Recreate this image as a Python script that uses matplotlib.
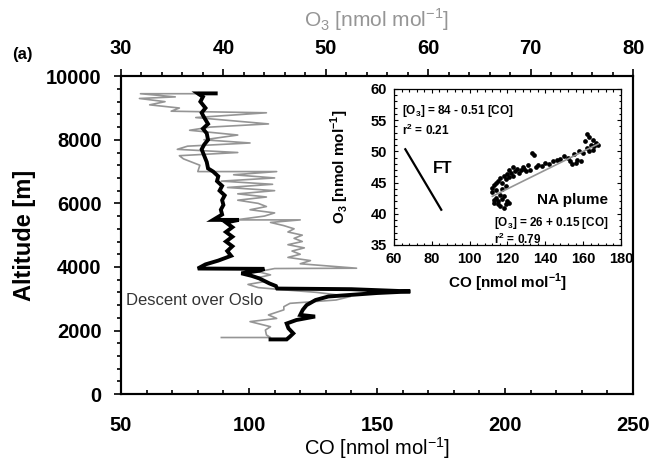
"""
CO and O3 profile, descent over Oslo
inset: O3 vs CO correlation (FT and NA plume)
"""
import matplotlib
matplotlib.use('Agg')
import matplotlib.pyplot as plt
from matplotlib.ticker import MultipleLocator

plt.rcParams['font.family'] = ['Liberation Sans', 'DejaVu Sans']
plt.rcParams['mathtext.fontset'] = 'custom'
plt.rcParams['mathtext.rm'] = 'Liberation Sans'
plt.rcParams['mathtext.bf'] = 'Liberation Sans:bold'

########## profile data ##########
co_alt = [9460, 9460, 9350, 9200, 9000, 8850, 8700, 8500, 8350, 8200,
          8000, 7850, 7700, 7500, 7300, 7100, 7000, 6850, 6700, 6550,
          6400, 6250, 6100, 5950, 5800, 5650, 5480, 5480, 5400, 5250,
          5100, 4950, 4800, 4650, 4500, 4350, 4200, 4080, 3950, 3940,
          3880, 3800, 3720, 3640, 3560, 3480, 3400, 3320, 3300, 3230,
          3180, 3070, 2960, 2800, 2650, 2490, 2440, 2330, 2220, 2070,
          1910, 1810, 1720, 1720]
co = [87, 80, 82, 81, 83, 81.5, 82.5, 84, 82, 83.5,
      84, 82.5, 81.5, 82.5, 83.5, 84, 86, 88, 87.5, 89.5,
      88.5, 90.5, 89.5, 90, 89, 89.5, 86, 96, 91, 93.5,
      91, 93.5, 91, 93.5, 91.5, 93, 88, 83, 80, 106,
      104, 97, 101, 104, 106, 108, 110.5, 111, 140, 163,
      150, 131, 126, 122.5, 121, 120, 125.8, 118.5, 114.7, 115.4,
      117.3, 116, 114.7, 108.4]

o3_alt = [9450, 9450, 9350, 9300, 9200, 9100, 9000, 8900, 8850, 8700,
          8500, 8400, 8300, 8150, 8000, 7900, 7800, 7700, 7600, 7500,
          7400, 7200, 7000, 7000, 6900, 6800, 6700, 6600, 6500, 6400,
          6300, 6200, 6100, 6000, 5900, 5800, 5700, 5600, 5480, 5480,
          5400, 5300, 5200, 5100, 5000, 4900, 4800, 4700, 4600, 4500,
          4400, 4300, 4200, 4100, 3960, 3950, 3850, 3750, 3650, 3550,
          3450, 3350, 3280, 3200, 3070, 2960, 2855, 2750, 2650, 2490,
          2380, 2280, 2120, 2015, 1860, 1780, 1780]
o3 = [37.7, 31.9, 35.3, 31.8, 34.3, 32.8, 35.7, 34.9, 44.2, 37.3,
      44.4, 38.7, 36.7, 41.4, 38.1, 42.6, 36.5, 35.5, 41.4, 35.7,
      36.1, 37.7, 37.5, 45.2, 41.0, 45.0, 39.8, 44.8, 40.4, 45.0,
      41.4, 44.2, 41.4, 43.4, 44.2, 42.6, 45.0, 44.0, 41.2, 47.5,
      44.6, 45.9, 46.9, 46.3, 47.7, 46.9, 47.7, 46.3, 47.9, 46.7,
      47.5, 46.3, 48.5, 47.5, 53.0, 45.0, 43.4, 44.6, 43.2, 44.2,
      42.4, 43.4, 45.9, 49.1, 52.4, 51.0, 46.5, 45.9, 45.9, 44.4,
      45.2, 42.6, 44.6, 44.1, 44.2, 44.6, 39.8]

########## inset: NA plume scatter ##########
plume_co = [112, 113, 113, 114, 114, 115, 115, 116, 116, 117,
            117, 118, 118, 119, 119, 120, 121, 112, 113, 114,
            115, 116, 117, 118, 119, 120, 121, 121, 122, 123,
            123, 124, 125, 126, 127, 128, 129, 130, 131, 132,
            133, 134, 135, 136, 138, 140, 142, 144, 146, 148,
            150, 152, 153, 154, 155, 156, 157, 158, 159, 160,
            161, 162, 162, 163, 164, 165, 165, 166, 167, 168, 163]
plume_o3 = [43.5, 42.2, 41.8, 42.5, 43.8, 41.5, 42.0, 43.0, 41.2, 42.3,
            44.0, 41.0, 42.8, 41.6, 44.5, 42.0, 41.8, 44.2, 44.6, 45.0,
            45.3, 45.8, 45.0, 46.0, 45.5, 46.3, 45.9, 47.0, 46.5, 46.0,
            47.5, 46.8, 47.2, 46.5, 47.0, 47.5, 47.2, 46.8, 47.8, 47.0,
            49.7, 49.5, 47.5, 47.8, 47.6, 48.2, 48.0, 48.4, 48.6, 48.8,
            49.2, 49.0, 48.4, 48.0, 49.6, 48.2, 48.6, 50.0, 48.4, 49.8,
            51.6, 50.5, 52.8, 52.3, 51.0, 50.2, 51.8, 50.8, 51.4, 51.0, 50.0]

# regression fits: intercept, slope, CO range
ft_fit = (84, -0.51)
ft_range = [66, 85]
na_fit = (26, 0.15)
na_range = [112, 168]

grey = '#959595'
bold = 'bold'

########## main profile ##########
fig = plt.figure(figsize=(6.54, 4.62), dpi=100)
ax = fig.add_axes([0.185, 0.147, 0.783, 0.688])
ax2 = ax.twiny()

ax2.plot(o3, o3_alt, '-', color=grey, lw=1.2)
ax.plot(co, co_alt, '-', color='black', lw=2.8, solid_joinstyle='miter')
ax.set_zorder(ax2.get_zorder() + 1)
ax.patch.set_visible(False)

ax.set_xlim(50, 250)
ax.set_ylim(0, 10000)
ax2.set_xlim(30, 80)

ax.xaxis.set_major_locator(MultipleLocator(50))
ax.xaxis.set_minor_locator(MultipleLocator(10))
ax.yaxis.set_major_locator(MultipleLocator(2000))
ax.yaxis.set_minor_locator(MultipleLocator(400))
ax2.xaxis.set_major_locator(MultipleLocator(10))
ax2.xaxis.set_minor_locator(MultipleLocator(2))

ax.tick_params(axis='x', which='both', direction='in', top=False, pad=16,
               labelsize=14.5, width=1.2)
ax.tick_params(axis='x', which='major', length=4)
ax.tick_params(axis='x', which='minor', length=3)
ax.tick_params(axis='y', which='both', direction='out', right=False, pad=9,
               labelsize=14.5, width=1.2)
ax.tick_params(axis='y', which='major', length=5)
ax.tick_params(axis='y', which='minor', length=3)
ax2.tick_params(axis='x', which='both', direction='out', pad=8,
                labelsize=14.5, width=1.2)
ax2.tick_params(axis='x', which='major', length=5)
ax2.tick_params(axis='x', which='minor', length=3)
for lbl in ax.get_xticklabels() + ax.get_yticklabels() + ax2.get_xticklabels():
    lbl.set_fontweight(bold)

for a in (ax, ax2):
    for s in a.spines.values():
        s.set_linewidth(1.5)

ax.set_xlabel('CO [nmol mol$^{\\mathregular{-1}}$]', fontsize=14.5)
ax.xaxis.set_label_coords(0.5, -0.128)
ax.set_ylabel('Altitude [m]', fontsize=17, fontweight=bold)
ax.yaxis.set_label_coords(-0.166, 0.5)
ax2.set_xlabel('O$_\\mathregular{3}$ [nmol mol$^{\\mathregular{-1}}$]',
               fontsize=15, color=grey)
ax2.xaxis.set_label_coords(0.5, 1.155)

ax.text(52, 2950, 'Descent over Oslo', fontsize=12, color='#333333',
        ha='left', va='center')
fig.text(0.019, 1 - 55 / 462, '(a)', fontsize=12, fontweight=bold,
         ha='left', va='center')

########## inset ##########
axi = fig.add_axes([0.6024, 0.4697, 0.3471, 0.3377])
axi.plot(plume_co, plume_o3, 'o', color='black', ms=3.4, mew=0)
axi.plot(na_range, [na_fit[0] + na_fit[1] * c for c in na_range],
         '-', color=grey, lw=1.2)
axi.plot(ft_range, [ft_fit[0] + ft_fit[1] * c for c in ft_range],
         '-', color='black', lw=1.6)
axi.set_xlim(60, 180)
axi.set_ylim(35, 60)
axi.xaxis.set_major_locator(MultipleLocator(20))
axi.xaxis.set_minor_locator(MultipleLocator(4))
axi.yaxis.set_major_locator(MultipleLocator(5))
axi.yaxis.set_minor_locator(MultipleLocator(1))
axi.tick_params(which='both', direction='in', top=True, right=True,
                labelsize=10.5, width=0.8, pad=5)
axi.tick_params(which='major', length=3)
axi.tick_params(which='minor', length=1.8)
for lbl in axi.get_xticklabels() + axi.get_yticklabels():
    lbl.set_fontweight(bold)
for s in axi.spines.values():
    s.set_linewidth(0.9)

axi.set_xlabel('CO [nmol mol$^{\\mathregular{-1}}$]', fontsize=11,
               fontweight=bold)
axi.set_ylabel('O$_\\mathregular{3}$ [nmol mol$^{\\mathregular{-1}}$]',
               fontsize=11, fontweight=bold)
axi.yaxis.set_label_coords(-0.19, 0.5)

axi.text(64, 56.4, '[O$_\\mathregular{3}$] = 84 - 0.51 [CO]', fontsize=8.5,
         fontweight=bold, ha='left', va='center')
axi.text(64, 53.4, 'r$^\\mathregular{2}$ = 0.21', fontsize=8.5,
         fontweight=bold, ha='left', va='center')
axi.text(80.5, 47.2, 'FT', fontsize=11.5, fontweight=bold,
         ha='left', va='center')
axi.text(154.5, 42.2, 'NA plume', fontsize=11, fontweight=bold,
         ha='center', va='center')
axi.text(113, 38.6, '[O$_\\mathregular{3}$] = 26 + 0.15 [CO]', fontsize=8.5,
         fontweight=bold, ha='left', va='center')
axi.text(113, 35.9, 'r$^\\mathregular{2}$ = 0.79', fontsize=8.5,
         fontweight=bold, ha='left', va='center')

fig.savefig('out.png', dpi=100)
